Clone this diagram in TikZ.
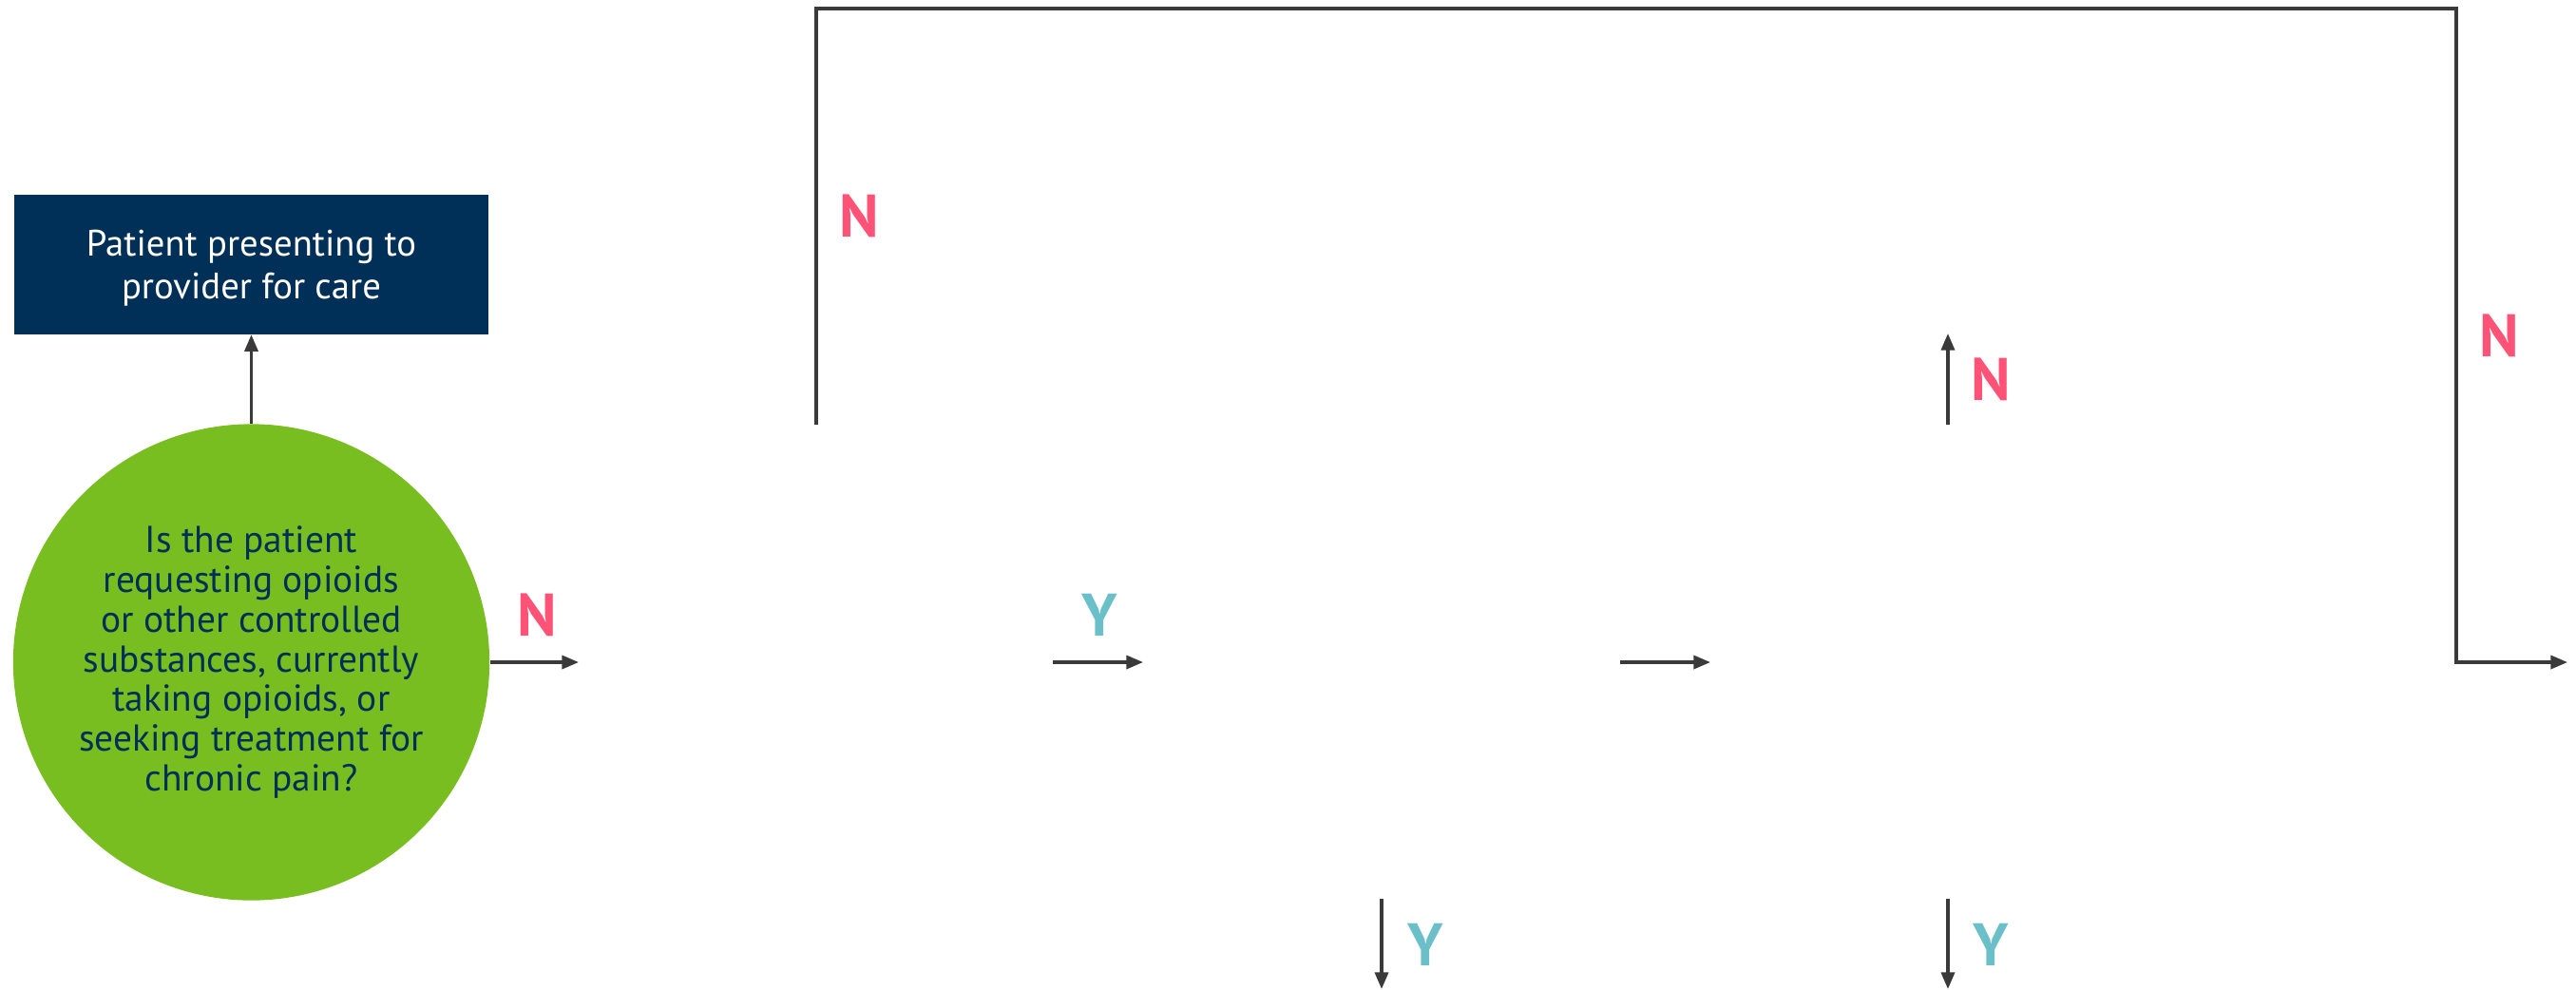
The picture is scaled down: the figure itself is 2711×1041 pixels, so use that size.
\documentclass[tikz,border=0pt]{standalone}
\usepackage{fontspec}
\setmainfont{PT Sans}
\usetikzlibrary{arrows.meta}
\definecolor{navy}{HTML}{003057}
\definecolor{lime}{HTML}{78BE20}
\definecolor{npink}{HTML}{FF5277}
\definecolor{yteal}{HTML}{6BBFC8}
\definecolor{arrgray}{HTML}{3A3A3A}
\tikzset{
  arr/.style={draw=arrgray, line width=0.9pt, -{Triangle[length=5pt,width=4pt]}},
  nlab/.style={text=npink, font=\fontsize{18}{20}\selectfont\bfseries, inner sep=0pt},
  ylab/.style={text=yteal, font=\fontsize{18}{20}\selectfont\bfseries, inner sep=0pt},
  startbox/.style={fill=navy, text=white, minimum width=4.98cm, minimum height=1.46cm, inner sep=0pt, align=center, font=\fontsize{11}{12.8}\selectfont},
  question/.style={circle, fill=lime, text=navy, minimum size=5.01cm, inner sep=0pt, align=center, font=\fontsize{11.2}{11.9}\selectfont}
}
\begin{document}
\begin{tikzpicture}[x=0.01cm, y=-0.01cm]
\useasboundingbox (0,0) rectangle (2711,1041);
\node[startbox] (b) at (264.5,278.5) {\rule{0pt}{10pt}Patient presenting to\\provider for care};
\node[question] (q) at (264.5,697) {Is the patient\\requesting opioids\\or other controlled\\substances, currently\\taking opioids, or\\seeking treatment for\\chronic pain?};
\draw[arr] (q.north) -- (b.south);
% arrows with free ends
\coordinate (a1e) at (609,697);
\draw[arr] (q.east) -- (a1e);
\node[nlab] (n1) at (565,647) {N};
\coordinate (a2s) at (1108,697);
\coordinate (a2e) at (1203,697);
\draw[arr] (a2s) -- (a2e);
\node[ylab] (y1) at (1157,647) {Y};
\coordinate (a3s) at (1705,697);
\coordinate (a3e) at (1800,697);
\draw[arr] (a3s) -- (a3e);
% big loop
\coordinate (l0) at (859,447);
\coordinate (l1) at (859,9);
\coordinate (l2) at (2585,9);
\coordinate (l3) at (2585,697);
\coordinate (l4) at (2702,697);
\draw[arr] (l0) -- (l1) -- (l2) -- (l3) -- (l4);
\node[nlab] (n2) at (904,227.5) {N};
\node[nlab] (n3) at (2630,353.5) {N};
% up arrow
\coordinate (u0) at (2050,447);
\coordinate (u1) at (2050,351);
\draw[arr] (u0) -- (u1);
\node[nlab] (n4) at (2095,399.5) {N};
% down arrows
\coordinate (d0) at (1454,946);
\coordinate (d1) at (1454,1041);
\draw[arr] (d0) -- (d1);
\node[ylab] (y2) at (1500,994) {Y};
\coordinate (e0) at (2050,946);
\coordinate (e1) at (2050,1041);
\draw[arr] (e0) -- (e1);
\node[ylab] (y3) at (2095,994) {Y};
\end{tikzpicture}
\end{document}
